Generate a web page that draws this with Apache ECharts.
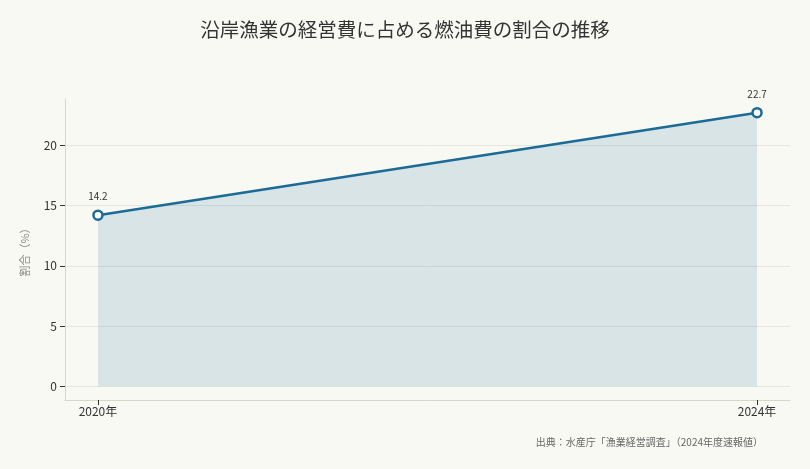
<!DOCTYPE html>
<html>
<head>
<meta charset="utf-8">
<script src="https://cdn.jsdelivr.net/npm/echarts@6/dist/echarts.min.js"></script>
<style>
  html, body { margin: 0; padding: 0; background: #f9f9f4; }
  #main { width: 810px; height: 469px; }
</style>
</head>
<body>
<div id="main"></div>
<script>
// 年度と燃油費の割合（%）
var years = [2020, 2024];
var shares = [14.2, 22.7];
var yTicks = [0, 5, 10, 15, 20];
var xLabels = ['2020年', '2024年'];

var font = '"Noto Sans CJK JP", "Noto Sans", sans-serif';
var lineColor = '#1b6b97';

var chart = echarts.init(document.getElementById('main'));
chart.setOption({
  backgroundColor: '#f9f9f4',
  textStyle: { fontFamily: font },
  title: {
    text: '沿岸漁業の経営費に占める燃油費の割合の推移',
    left: 'center',
    top: 15,
    textStyle: { fontSize: 19.5, fontWeight: 'normal', color: '#333', fontFamily: font }
  },
  graphic: [{
    type: 'text',
    right: 47,
    top: 437,
    style: {
      text: '出典：水産庁「漁業経営調査」（2024年度速報値）',
      fontSize: 10,
      fill: '#666',
      fontFamily: font
    }
  }],
  grid: { left: 65, right: 20, top: 99, bottom: 69 },
  xAxis: {
    type: 'value',
    min: 2019.8,
    max: 2024.2,
    axisLine: { show: true, onZero: false, lineStyle: { color: '#d6d6cc' } },
    axisTick: { show: true, customValues: years, length: 5, lineStyle: { color: '#333' } },
    axisLabel: {
      customValues: years,
      color: '#333',
      fontSize: 12,
      margin: 5,
      formatter: function (v) { return xLabels[years.indexOf(v)]; }
    },
    splitLine: { show: false }
  },
  yAxis: {
    type: 'value',
    min: -1.135,
    max: 23.835,
    name: '割合（%）',
    nameLocation: 'middle',
    nameGap: 35,
    nameTextStyle: { color: '#888', fontSize: 11 },
    axisLine: { show: true, onZero: false, lineStyle: { color: '#d6d6cc' } },
    axisTick: { show: true, customValues: yTicks, length: 5, lineStyle: { color: '#333' } },
    axisLabel: { customValues: yTicks, color: '#333', fontSize: 12, margin: 8 },
    splitLine: { show: true, customValues: yTicks, lineStyle: { color: '#e6e6de' } }
  },
  series: [{
    type: 'line',
    data: years.map(function (y, i) { return [y, shares[i]]; }),
    lineStyle: { color: lineColor, width: 2.5 },
    symbol: 'circle',
    symbolSize: 9,
    itemStyle: { color: '#ffffff', borderColor: lineColor, borderWidth: 2.5 },
    areaStyle: { color: 'rgba(27,107,151,0.2)', origin: 0 },
    label: {
      show: true,
      position: 'top',
      distance: 8,
      fontSize: 10,
      color: '#333',
      formatter: function (p) { return p.value[1].toFixed(1); }
    },
    z: 3
  }]
});
</script>
</body>
</html>
